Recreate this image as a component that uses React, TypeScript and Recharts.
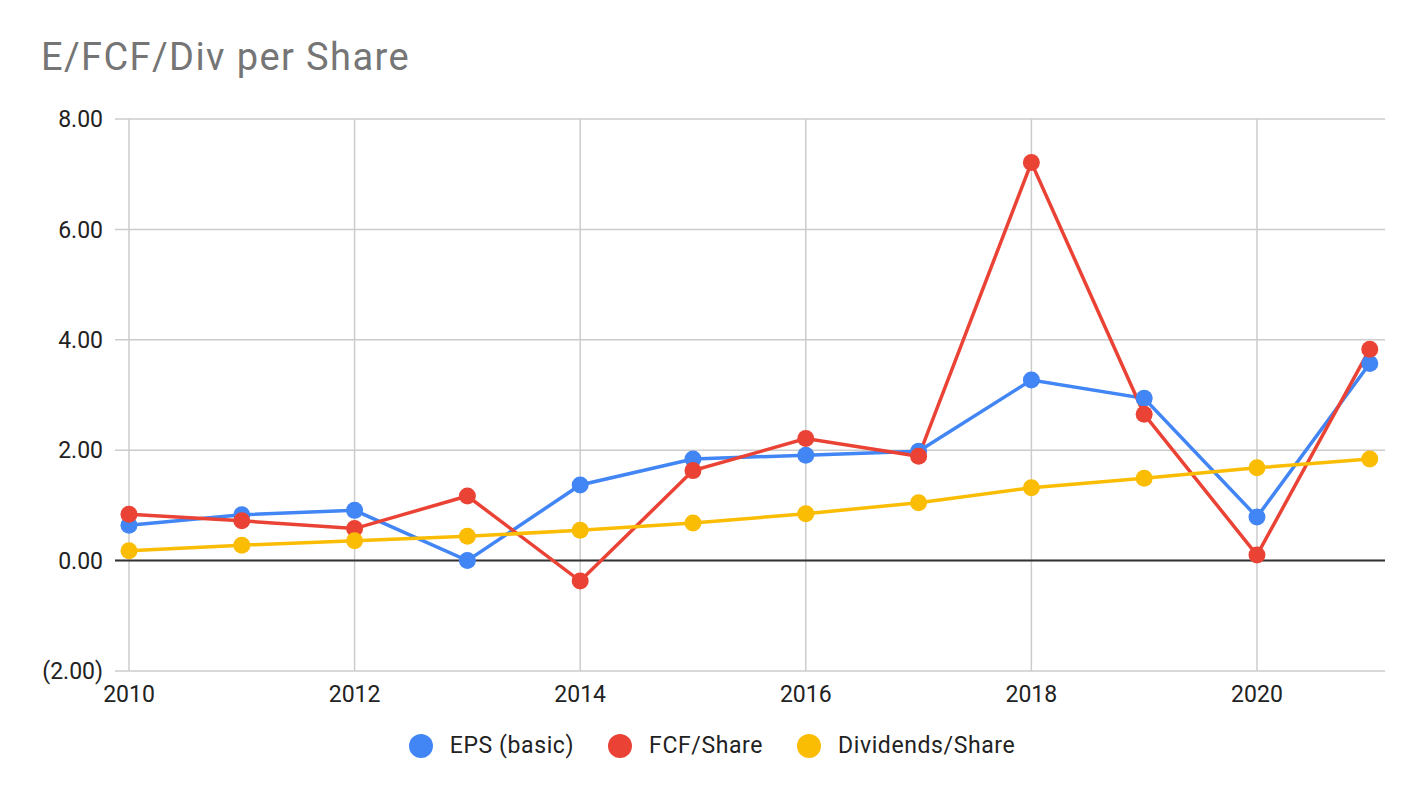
import React from "react";
import { LineChart, Line, XAxis, YAxis, CartesianGrid, ReferenceLine } from "recharts";

const years = [2010, 2011, 2012, 2013, 2014, 2015, 2016, 2017, 2018, 2019, 2020, 2021];
const eps = [0.64, 0.83, 0.91, 0.0, 1.37, 1.84, 1.91, 1.98, 3.27, 2.94, 0.79, 3.57];
const fcf = [0.84, 0.72, 0.58, 1.17, -0.37, 1.63, 2.21, 1.89, 7.21, 2.65, 0.1, 3.83];
const dividends = [0.18, 0.28, 0.36, 0.44, 0.55, 0.68, 0.85, 1.05, 1.32, 1.49, 1.68, 1.84];

const xTicks = [2010, 2012, 2014, 2016, 2018, 2020];
const yTicks = [-2, 0, 2, 4, 6, 8];

const seriesList = [
  { key: "eps", name: "EPS (basic)", color: "#4285F4", values: eps },
  { key: "fcf", name: "FCF/Share", color: "#EA4335", values: fcf },
  { key: "div", name: "Dividends/Share", color: "#FBBC04", values: dividends },
];

const data = years.map((y, i) => {
  const row: Record<string, number> = { year: y };
  seriesList.forEach((s) => {
    row[s.key] = s.values[i];
  });
  return row;
});

const fmtY = (v: number) => (v < 0 ? `(${Math.abs(v).toFixed(2)})` : v.toFixed(2));

const FONT = "Roboto, Arial, sans-serif";

export default function App() {
  return (
    <div style={{ position: "absolute", left: 0, top: 0, width: 1424, height: 798, background: "#fff", fontFamily: FONT }}>
      <div
        style={{
          position: "absolute",
          left: 41,
          top: 38,
          fontSize: 38,
          lineHeight: "38px",
          color: "#757575",
          letterSpacing: 1.4,
          whiteSpace: "nowrap",
        }}
      >
        E/FCF/Div per Share
      </div>
      <LineChart
        width={1424}
        height={798}
        data={data}
        margin={{ top: 119, right: 39, bottom: 87, left: 35 }}
      >
        <CartesianGrid stroke="#cccccc" strokeWidth={1.5} vertical={false} />
        {xTicks.map((t) => (
          <ReferenceLine key={"v" + t} x={t} stroke="#cccccc" strokeWidth={1.5} />
        ))}
        <XAxis
          dataKey="year"
          type="number"
          domain={[2009.876, 2021.135]}
          ticks={xTicks}
          allowDataOverflow
          axisLine={false}
          tickLine={false}
          tickSize={6}
          tickMargin={9}
          height={40}
          tick={{ fill: "#222222", fontSize: 23, fontFamily: FONT }}
          interval={0}
        />
        <YAxis
          type="number"
          domain={[-2, 8]}
          ticks={yTicks}
          allowDataOverflow
          axisLine={false}
          tickLine={false}
          tickSize={6}
          tickMargin={6}
          width={80}
          tickFormatter={fmtY}
          tick={{ fill: "#222222", fontSize: 23, fontFamily: FONT }}
          interval={0}
        />
        <ReferenceLine y={0} stroke="#333333" strokeWidth={2} />
        {seriesList.map((s) => (
          <Line
            key={s.key}
            dataKey={s.key}
            name={s.name}
            type="linear"
            stroke={s.color}
            strokeWidth={3.5}
            dot={{ r: 8.5, fill: s.color, stroke: s.color, strokeWidth: 0 }}
            activeDot={false}
            isAnimationActive={false}
          />
        ))}
      </LineChart>
      <div
        style={{
          position: "absolute",
          left: 0,
          top: 733.5,
          width: 1424,
          height: 24,
          display: "flex",
          justifyContent: "center",
          alignItems: "center",
        }}
      >
        {seriesList.map((s, i) => (
          <div
            key={s.key}
            style={{ display: "flex", alignItems: "center", marginLeft: i === 0 ? 0 : 34 }}
          >
            <div style={{ width: 24, height: 24, borderRadius: 12, background: s.color, marginRight: 17 }} />
            <span style={{ fontSize: 23, lineHeight: "24px", color: "#222222", letterSpacing: 0.6, whiteSpace: "nowrap" }}>
              {s.name}
            </span>
          </div>
        ))}
      </div>
    </div>
  );
}
